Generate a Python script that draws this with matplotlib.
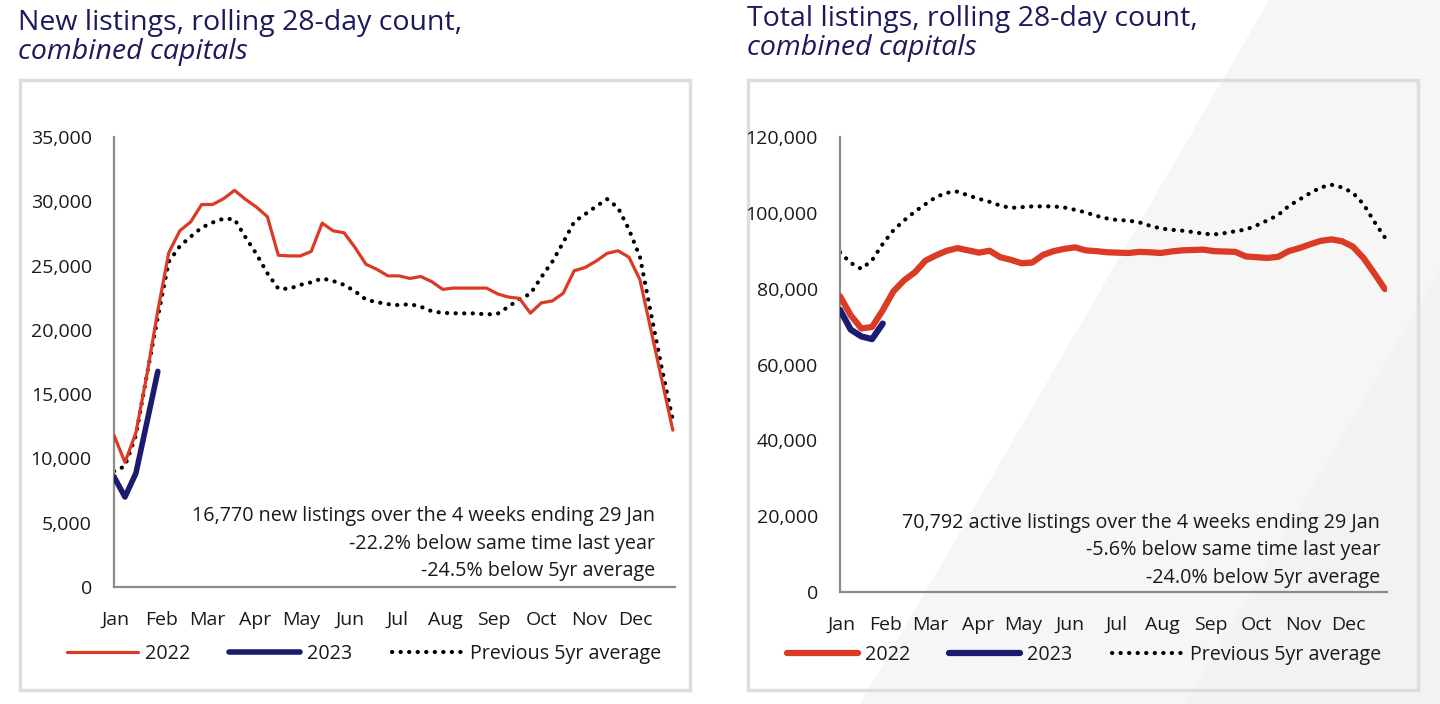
import numpy as np
import matplotlib
matplotlib.use("Agg")
import matplotlib.pyplot as plt
from matplotlib.patches import Rectangle, Polygon
from matplotlib.ticker import FuncFormatter

# Data (weekly points, week 0 = first week of Jan)
months = ["Jan", "Feb", "Mar", "Apr", "May", "Jun", "Jul", "Aug", "Sep", "Oct", "Nov", "Dec"]
month_pos = [0.1, 4.3, 8.5, 12.9, 17.1, 21.5, 25.9, 30.2, 34.7, 39.0, 43.4, 47.6]

new_2022 = [11800, 9700, 12000, 16500, 21500, 26000, 27700, 28400, 29750, 29750,
            30200, 30850, 30150, 29550, 28800, 25800, 25750, 25750, 26100, 28300,
            27700, 27550, 26400, 25100, 24700, 24200, 24200, 24000, 24150, 23750,
            23150, 23250, 23250, 23250, 23250, 22800, 22550, 22450, 21300, 22100,
            22250, 22850, 24600, 24850, 25350, 25950, 26150, 25650, 23900, 20000,
            16100, 12200]
new_2023 = [8580, 7000, 8850, 12800, 16770]
new_5yr = [9000, 9400, 11800, 16500, 21000, 25300, 26500, 27250, 27950, 28350,
           28650, 28600, 27200, 25900, 24400, 23200, 23200, 23500, 23700, 24000,
           23800, 23500, 23000, 22350, 22150, 22000, 21920, 22000, 21800, 21450,
           21320, 21290, 21280, 21280, 21200, 21250, 21800, 22400, 22800, 24100,
           25300, 26800, 28400, 29000, 29600, 30170, 29500, 27800, 25680, 21300,
           17000, 13000]

total_2022 = [78000, 73000, 69500, 69900, 74300, 79300, 82200, 84300, 87400, 88800,
              90000, 90700, 90100, 89500, 90000, 88300, 87600, 86700, 86900, 88900,
              89900, 90500, 90900, 90100, 89900, 89600, 89500, 89400, 89700, 89600,
              89400, 89800, 90100, 90200, 90300, 89900, 89800, 89700, 88500, 88300,
              88100, 88400, 89900, 90700, 91700, 92600, 93000, 92500, 91100, 88100,
              84100, 79900]
total_2023 = [74400, 69200, 67400, 66700, 70792]
total_5yr = [89600, 86800, 85200, 87500, 91800, 95400, 98000, 100300, 102300, 104200,
             105300, 105600, 104600, 103700, 102900, 101900, 101300, 101500, 101700, 101700,
             101700, 101400, 100800, 100100, 99200, 98500, 98100, 97950, 97500, 96600,
             95900, 95550, 95300, 94950, 94500, 94300, 94650, 95150, 95600, 96700,
             98000, 99400, 101800, 103500, 105200, 106700, 107400, 106700, 105300, 102300,
             97700, 93500]

notes_new = ["16,770 new listings over the 4 weeks ending 29 Jan",
             "-22.2% below same time last year",
             "-24.5% below 5yr average"]
notes_total = ["70,792 active listings over the 4 weeks ending 29 Jan",
               "-5.6% below same time last year",
               "-24.0% below 5yr average"]

RED = "#db3b24"
NAVY = "#1b1b6f"
TITLE = "#1c1a5c"
TXT = "#1a1a1a"
W, H = 1440, 704

plt.rcParams["font.family"] = ["Open Sans", "DejaVu Sans"]

fig = plt.figure(figsize=(W / 100, H / 100), dpi=100)

def fx(px):
    return px / W

def fy(py):
    return 1 - py / H

# faint diagonal background on the right
fig.patches.append(Polygon([(fx(1269), fy(0)), (fx(1440), fy(0)), (fx(1440), fy(704)), (fx(860), fy(704))],
                           closed=True, transform=fig.transFigure, facecolor="#f6f6f6", edgecolor="none", zorder=-3))
fig.patches.append(Polygon([(fx(1440), fy(270)), (fx(1440), fy(704)), (fx(1185), fy(704))],
                           closed=True, transform=fig.transFigure, facecolor="#f2f2f2", edgecolor="none", zorder=-2))

# panel boxes
for x0 in (20, 748):
    fig.patches.append(Rectangle((fx(x0), fy(690)), fx(670), 610 / H, transform=fig.transFigure,
                                 fill=False, edgecolor="#dcdde2", linewidth=2.5, zorder=-1))

# titles
for x0, y0, line1 in [(18, 23, "New listings, rolling 28-day count,"),
                      (747, 19, "Total listings, rolling 28-day count,")]:
    fig.text(fx(x0), fy(y0), line1, color=TITLE, fontsize=20.5, va="center", ha="left")
    fig.text(fx(x0), fy(y0 + 29), "combined capitals", color=TITLE, fontsize=20.5,
             style="italic", va="center", ha="left")


def draw(ax_rect, ymax, ystep, y2022, y2023, y5yr, notes, lw22, lw23, note_x, note_y, leg_xy):
    ax = fig.add_axes(ax_rect)
    ax.patch.set_alpha(0)
    wk = np.arange(len(y2022))
    ax.plot(wk, y5yr, color="black", linewidth=3.0, linestyle=(0, (0.05, 2.0)),
            dash_capstyle="round", label="Previous 5yr average", zorder=2)
    ax.plot(wk, y2022, color=RED, linewidth=lw22, solid_capstyle="round",
            solid_joinstyle="round", label="2022", zorder=3)
    ax.plot(np.arange(len(y2023)), y2023, color=NAVY, linewidth=lw23,
            solid_capstyle="round", solid_joinstyle="round", label="2023", zorder=4)
    ax.set_xlim(0, 51.2)
    ax.set_ylim(0, ymax)
    ax.set_yticks(np.arange(0, ymax + 1, ystep))
    ax.yaxis.set_major_formatter(FuncFormatter(lambda v, p: f"{int(v):,}"))
    ax.set_xticks(month_pos)
    ax.set_xticklabels(months)
    ax.tick_params(axis="both", length=0, labelsize=14, labelcolor=TXT)
    ax.tick_params(axis="y", pad=16)
    ax.tick_params(axis="x", pad=17)
    for s in ("top", "right"):
        ax.spines[s].set_visible(False)
    for s in ("left", "bottom"):
        ax.spines[s].set_color("#8c8c8c")
        ax.spines[s].set_linewidth(1.6)
    for k, line in enumerate(notes):
        fig.text(fx(note_x), fy(note_y + 27.5 * k), line, ha="right", va="center",
                 fontsize=14.2, color=TXT)
    handles, labels = ax.get_legend_handles_labels()
    order = [1, 2, 0]
    fig.legend([handles[i] for i in order], [labels[i] for i in order], loc="center",
               bbox_to_anchor=(fx(leg_xy[0]), fy(leg_xy[1])), ncol=3, frameon=False,
               fontsize=14.2, handlelength=3.6, handletextpad=0.35, columnspacing=2.0,
               labelcolor=TXT)
    return ax


draw([fx(114), fy(587), fx(561), 450 / H], 35000, 5000, new_2022, new_2023, new_5yr,
     notes_new, 2.3, 4.0, 655, 516, (364, 654))
draw([fx(840), fy(592), fx(547), 455 / H], 120000, 20000, total_2022, total_2023, total_5yr,
     notes_total, 4.5, 4.5, 1380, 523, (1084, 655))

fig.savefig("out.png", dpi=100)
